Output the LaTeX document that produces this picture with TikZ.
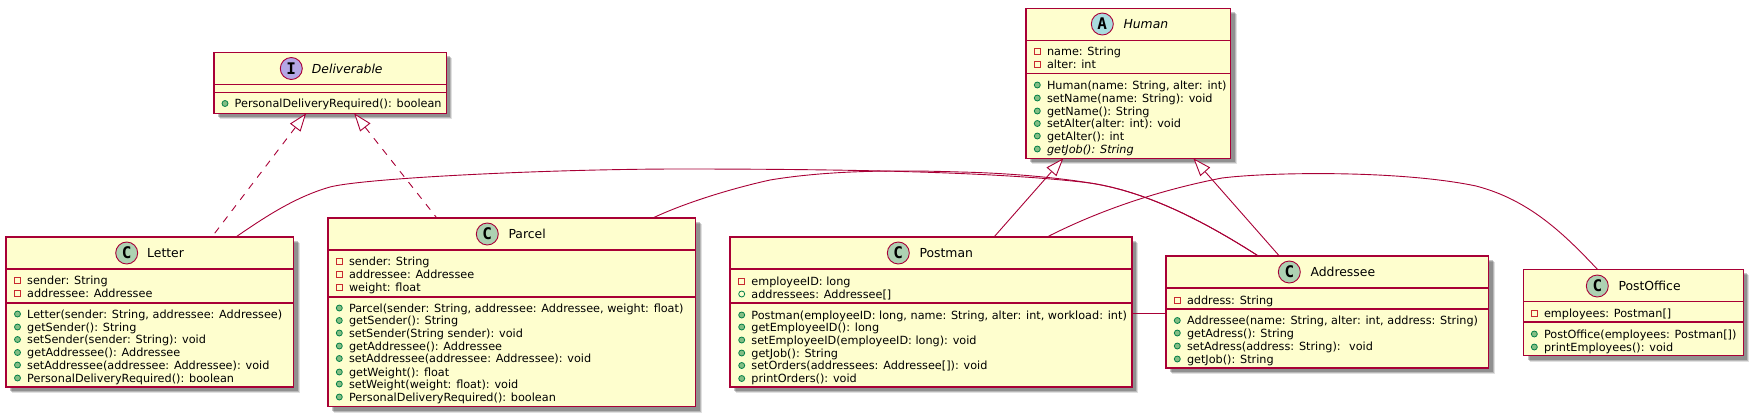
\documentclass[tikz,border=0pt]{standalone}
\usepackage{fontspec}
\setmainfont{DejaVu Sans}
\newfontfamily\markfont{DejaVu Sans Mono}
\usetikzlibrary{arrows.meta,shadows}

\definecolor{umlline}{HTML}{A80036}
\definecolor{umlfill}{HTML}{FEFECE}
\definecolor{classgreen}{HTML}{ADD1B2}
\definecolor{ifacepurple}{HTML}{B4A7E5}
\definecolor{abstractblue}{HTML}{A9DCDF}
\definecolor{privred}{HTML}{C82930}
\definecolor{pubgreen}{HTML}{038048}
\definecolor{pubfill}{HTML}{84BE84}

\tikzset{
    classbox/.style={rectangle, draw=umlline, fill=umlfill, line width=1.4pt, anchor=north west, inner sep=0pt, outer sep=0pt,
        general shadow={shadow xshift=6pt, shadow yshift=-6pt, fill=black, opacity=0.12},
        general shadow={shadow xshift=5pt, shadow yshift=-5pt, fill=black, opacity=0.18},
        general shadow={shadow xshift=4pt, shadow yshift=-4pt, fill=black, opacity=0.22}},
    divider/.style={draw=umlline, line width=1.1pt},
    classmark/.style={circle, draw=umlline, line width=0.9pt, minimum size=22pt, inner sep=0pt, font=\markfont\bfseries\fontsize{16}{16}\selectfont},
    classname/.style={anchor=west, inner sep=0pt, font=\fontsize{12.4}{14}\selectfont},
    membertext/.style={anchor=base west, inner sep=0pt, font=\fontsize{11.25}{13}\selectfont},
    privmark/.style={rectangle, draw=privred, line width=0.8pt, minimum size=6pt, inner sep=0pt},
    pubmark/.style={circle, draw=pubgreen, fill=pubfill, line width=0.8pt, minimum size=6pt, inner sep=0pt},
    pubfield/.style={circle, draw=pubgreen, line width=0.8pt, minimum size=6pt, inner sep=0pt},
    assoc/.style={draw=umlline, line width=0.9pt},
    inherit/.style={assoc, {Triangle[open, fill=white, length=18pt, width=13pt]}-},
    realize/.style={inherit, dash pattern=on 7pt off 7pt},
}

% name, x of the marks, style of the mark, y/text list
\newcommand{\members}[4]{
    \foreach \y/\txt [count=\n] in {#4} {
        \node[#3] (#1mark\n) at (#2,\y) {};
        \node[membertext] (#1text\n) at (#2+9.5,\y+4) {\txt};
    }
}
\newcommand{\dividers}[3]{
    \draw[divider] (#1.west |- 0,#2) -- (#1.east |- 0,#2);
    \draw[divider] (#1.west |- 0,#3) -- (#1.east |- 0,#3);
}

\begin{document}
\begin{tikzpicture}[x=1pt, y=-1pt]
    \useasboundingbox (0,0) rectangle (1753,416);

    \node[classbox, minimum width=232.3pt, minimum height=61pt] (deliverable) at (214,52.3) {};
    \node[classbox, minimum width=287.7pt, minimum height=150pt] (letter) at (6,237) {};
    \node[classbox, minimum width=367.7pt, minimum height=188.7pt] (parcel) at (328,218) {};
    \node[classbox, minimum width=204.7pt, minimum height=150pt] (human) at (1026,8.3) {};
    \node[classbox, minimum width=402pt, minimum height=150pt] (postman) at (730,237) {};
    \node[classbox, minimum width=322.7pt, minimum height=112pt] (addressee) at (1166,256) {};
    \node[classbox, minimum width=219.8pt, minimum height=86.4pt] (postoffice) at (1523.5,269.3) {};

    \dividers{deliverable}{84.3}{92.7}
    \dividers{letter}{269}{303}
    \dividers{parcel}{250}{297}
    \dividers{human}{40.7}{73.3}
    \dividers{postman}{269}{303}
    \dividers{addressee}{288}{309}
    \dividers{postoffice}{301.7}{322}

    \node[classmark, fill=ifacepurple] (deliverablemark) at (291.3,68.5) {I};
    \node[classname] (deliverablename) at (311.7,68.5) {\itshape Deliverable};
    \node[classmark, fill=classgreen] (lettermark) at (126.7,253) {C};
    \node[classname] (lettername) at (147,253) {Letter};
    \node[classmark, fill=classgreen] (parcelmark) at (487.3,234) {C};
    \node[classname] (parcelname) at (508.3,234) {Parcel};
    \node[classmark, fill=abstractblue] (humanmark) at (1102.3,24) {A};
    \node[classname] (humanname) at (1123.3,24) {\itshape Human};
    \node[classmark, fill=classgreen] (postmanmark) at (898.3,253) {C};
    \node[classname] (postmanname) at (919.3,253) {Postman};
    \node[classmark, fill=classgreen] (addresseemark) at (1289.3,272) {C};
    \node[classname] (addresseename) at (1310.3,272) {Addressee};
    \node[classmark, fill=classgreen] (postofficemark) at (1597.3,286) {C};
    \node[classname] (postofficename) at (1618.3,286) {PostOffice};

    \members{deliverable}{225}{pubmark}{103.5/{PersonalDeliveryRequired(): boolean}}

    \members{letterattr}{17.5}{privmark}{280/{sender: String}, 293/{addressee: Addressee}}
    \members{letterop}{17.5}{pubmark}{314/{Letter(sender: String, addressee: Addressee)}, 327/{getSender(): String}, 339.5/{setSender(sender: String): void}, 352.5/{getAddressee(): Addressee}, 365/{setAddressee(addressee: Addressee): void}, 378/{PersonalDeliveryRequired(): boolean}}

    \members{parcelattr}{339.3}{privmark}{261/{sender: String}, 274/{addressee: Addressee}, 287/{weight: float}}
    \members{parcelop}{339.3}{pubmark}{308/{Parcel(sender: String, addressee: Addressee, weight: float)}, 320.5/{getSender(): String}, 333/{setSender(String sender): void}, 346/{getAddressee(): Addressee}, 358.5/{setAddressee(addressee: Addressee): void}, 372/{getWeight(): float}, 384/{setWeight(weight: float): void}, 397/{PersonalDeliveryRequired(): boolean}}

    \members{humanattr}{1037.3}{privmark}{51/{name: String}, 64/{alter: int}}
    \members{humanop}{1037.3}{pubmark}{85/{Human(name: String, alter: int)}, 98/{setName(name: String): void}, 111/{getName(): String}, 123.5/{setAlter(alter: int): void}, 136/{getAlter(): int}, 149/{\itshape getJob(): String}}

    \members{postmanattr}{741.7}{privmark}{281/{employeeID: long}}
    \members{postmanfield}{741.7}{pubfield}{294/{addressees: Addressee[]}}
    \members{postmanop}{741.7}{pubmark}{315/{Postman(employeeID: long, name: String, alter: int, workload: int)}, 327/{getEmployeeID(): long}, 340/{setEmployeeID(employeeID: long): void}, 353/{getJob(): String}, 365.5/{setOrders(addressees: Addressee[]): void}, 378.5/{printOrders(): void}}

    \members{addresseeattr}{1177.3}{privmark}{300/{address: String}}
    \members{addresseeop}{1177.3}{pubmark}{320.5/{Addressee(name: String, alter: int, address: String)}, 333/{getAdress(): String}, 346/{setAdress(address: String):~ void}, 359/{getJob(): String}}

    \members{postofficeattr}{1534.3}{privmark}{313/{employees: Postman[]}}
    \members{postofficeop}{1534.3}{pubmark}{334/{PostOffice(employees: Postman[])}, 347/{printEmployees(): void}}

    \draw[realize] ([xshift=-24pt]deliverable.south) -- ([xshift=62pt]letter.north);
    \draw[realize] ([xshift=24pt]deliverable.south) -- ([xshift=-75pt]parcel.north);
    \draw[inherit] ([xshift=-65pt]human.south) -- ([xshift=63pt]postman.north);
    \draw[inherit] ([xshift=65pt]human.south) -- ([xshift=-48pt]addressee.north);

    \draw[assoc] ([xshift=86pt]letter.north) .. controls (265,217) and (295,197) .. (330,187) .. controls (365,178) and (550,169) .. (680,169) .. controls (850,169) and (1000,172) .. (1090,183) .. controls (1150,192) and (1210,225) .. ([xshift=-69pt]addressee.north);
    \draw[assoc] ([xshift=141pt]parcel.north) .. controls (680,205) and (725,190) .. (770,180) .. controls (830,170) and (900,170) .. (960,172) .. controls (1010,173) and (1060,178) .. (1090,183) .. controls (1150,192) and (1210,225) .. ([xshift=-69pt]addressee.north);
    \draw[assoc] ([xshift=116pt]postman.north) .. controls (1100,210) and (1160,190) .. (1222,178) .. controls (1270,172) and (1400,170) .. (1476,186) .. controls (1530,200) and (1565,235) .. ([xshift=-36pt]postoffice.north);
    \draw[assoc] (postman.east |- 0,313) -- (addressee.west |- 0,313);
\end{tikzpicture}
\end{document}
